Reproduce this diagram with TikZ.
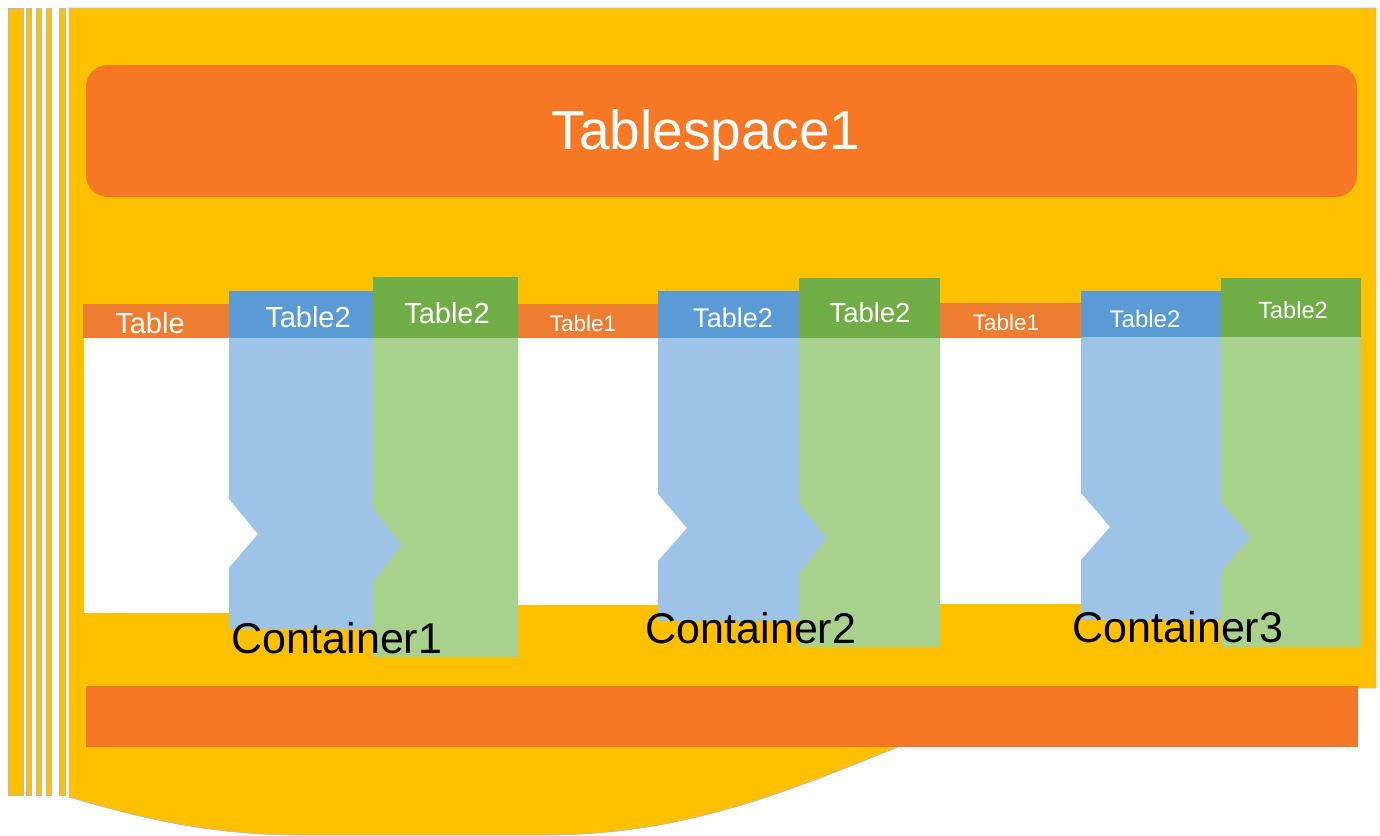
\documentclass[tikz,border=0pt]{standalone}
\usepackage{fontspec}
\setmainfont{Liberation Sans}
\definecolor{ylw}{HTML}{FFC000}
\definecolor{org}{HTML}{F67824}
\definecolor{torg}{HTML}{ED7D31}
\definecolor{dblue}{HTML}{5B9BD5}
\definecolor{lblue}{HTML}{9DC3E6}
\definecolor{dgreen}{HTML}{70AD47}
\definecolor{lgreen}{HTML}{A9D18E}
\definecolor{edge}{HTML}{B8B8B8}
\begin{document}
\begin{tikzpicture}[x=1pt,y=-1pt,
  stripe/.style={fill=ylw,draw=edge,line width=0.7pt},
  wtxt/.style={text=white,anchor=base,inner sep=0pt},
  btxt/.style={text=black,anchor=base,inner sep=0pt,font=\fontsize{43}{43}\selectfont}]
\useasboundingbox (0,0) rectangle (1380,835);
\fill[white] (0,0) rectangle (1380,835);
% stripes
\foreach \a/\b in {8/23,26/31,36/41,46/51,59/65}
  \filldraw[stripe] (\a,8) rectangle (\b,795);
% main yellow document shape
\filldraw[stripe] (69,8) -- (1376,8) -- (1376,688) -- (1357,688) -- (1357,746) -- (900,746)
  .. controls (780,795) and (680,835) .. (545,835) -- (300,835)
  .. controls (210,835) and (140,818) .. (69,797) -- cycle;
% top tablespace bar
\fill[org,rounded corners=22pt] (86,65) rectangle (1357,197);
\node[wtxt,font=\fontsize{55}{55}\selectfont] (ts) at (706,149) {Tablespace1};
% bottom bar
\filldraw[fill=org,draw=org!80!gray,line width=0.6pt] (86,686) rectangle (1357,746);
% table headers and bodies
\fill[white] (84,338) rectangle (265,613);
\fill[torg] (83,304) rectangle (229,338);
\fill[white] (517,338) rectangle (692,605);
\fill[torg] (517,304) rectangle (658,338);
\fill[white] (940,338) rectangle (1115,604);
\fill[torg] (940,303) rectangle (1081,338);
% container 1
\fill[lblue] (229,338) -- (373,338) -- (373,508) -- (402,545) -- (373,582) -- (373,629) -- (229,629) -- (229,568) -- (258,534) -- (229,499) -- cycle;
\fill[lgreen] (373,338) -- (518,338) -- (518,657) -- (373,657) -- (373,582) -- (402,545) -- (373,508) -- cycle;
\fill[dblue] (229,291) rectangle (373,338);
\fill[dgreen] (373,277) rectangle (518,338);
% container 2
\fill[lblue] (658,338) -- (799,338) -- (799,503) -- (827,538) -- (799,574) -- (799,621) -- (658,621) -- (658,561) -- (687,528) -- (658,494) -- cycle;
\fill[lgreen] (799,338) -- (940,338) -- (940,647) -- (799,647) -- (799,574) -- (827,538) -- (799,503) -- cycle;
\fill[dblue] (658,291) rectangle (799,338);
\fill[dgreen] (799,278) rectangle (940,338);
% container 3
\fill[lblue] (1081,337) -- (1221,337) -- (1221,502) -- (1251,537) -- (1221,572) -- (1221,620) -- (1081,620) -- (1081,560) -- (1110,527) -- (1081,493) -- cycle;
\fill[lgreen] (1221,337) -- (1361,337) -- (1361,647) -- (1221,647) -- (1221,572) -- (1251,537) -- (1221,502) -- cycle;
\fill[dblue] (1081,291) rectangle (1221,337);
\fill[dgreen] (1221,278) rectangle (1361,337);
% header texts
\node[wtxt,font=\fontsize{29}{29}\selectfont] (t0) at (150,333) {Table};
\node[wtxt,font=\fontsize{29}{29}\selectfont] (b1) at (308,327) {Table2};
\node[wtxt,font=\fontsize{29}{29}\selectfont] (g1) at (447,323) {Table2};
\node[wtxt,font=\fontsize{22.5}{22.5}\selectfont] (t1) at (583,331) {Table1};
\node[wtxt,font=\fontsize{27}{27}\selectfont] (b2) at (733,327) {Table2};
\node[wtxt,font=\fontsize{27.5}{27.5}\selectfont] (g2) at (870,322) {Table2};
\node[wtxt,font=\fontsize{22.5}{22.5}\selectfont] (t2) at (1006,330) {Table1};
\node[wtxt,font=\fontsize{24}{24}\selectfont] (b3) at (1145,327) {Table2};
\node[wtxt,font=\fontsize{23.5}{23.5}\selectfont] (g3) at (1293,318) {Table2};
% container labels
\node[btxt] (c1) at (337,653) {Container1};
\node[btxt] (c2) at (751,643) {Container2};
\node[btxt] (c3) at (1178,642) {Container3};
\end{tikzpicture}
\end{document}
